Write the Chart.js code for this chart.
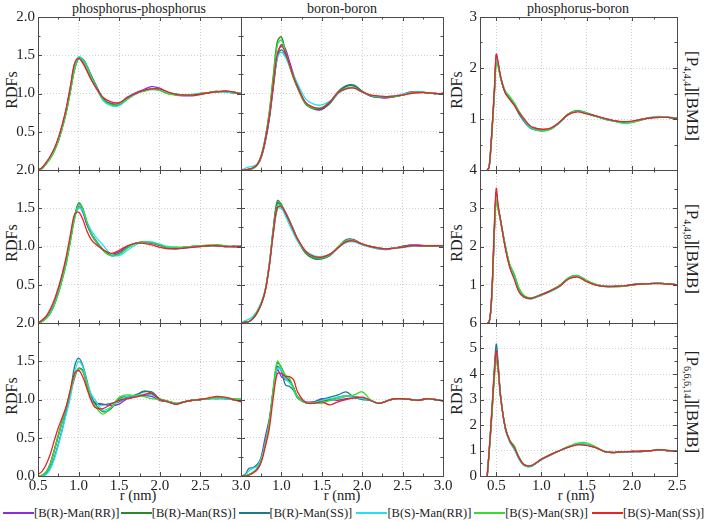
<!DOCTYPE html>
<html>
<head>
<meta charset="utf-8">
<script src="https://cdn.jsdelivr.net/npm/chart.js@4.4.1/dist/chart.umd.min.js"></script>
<style>
  body { margin:0; background:#fff; width:708px; height:522px; position:relative; overflow:hidden;
         font-family:"Liberation Serif","DejaVu Serif",serif; color:#222; }
  canvas { position:absolute; }
  .t { position:absolute; transform:translate(-50%,-50%); white-space:nowrap; }
  .title { font-size:14px; }
  .ax { font-size:14.5px; }
  .ylab { font-size:16px; transform:translate(-50%,-50%) rotate(-90deg); }
  .row { font-size:17px; transform:translate(-50%,-50%) rotate(90deg); }
  .row sub { font-size:10px; vertical-align:-3px; }
  .leg { position:absolute; top:505px; height:16px; display:flex; align-items:center; font-size:12.5px; }
  .leg b { display:inline-block; width:31px; height:1.6px; }
</style>
</head>
<body>
<div class="t title" style="left:139px;top:9px">phosphorus-phosphorus</div>
<div class="t title" style="left:342px;top:9px">boron-boron</div>
<div class="t title" style="left:578px;top:9px">phosphorus-boron</div>

<div class="t ylab" style="left:12px;top:90px">RDFs</div>
<div class="t ylab" style="left:12px;top:243px">RDFs</div>
<div class="t ylab" style="left:12px;top:396px">RDFs</div>
<div class="t ylab" style="left:457px;top:90px">RDFs</div>
<div class="t ylab" style="left:457px;top:243px">RDFs</div>
<div class="t ylab" style="left:457px;top:396px">RDFs</div>

<div class="t row" style="left:692px;top:96px">[P<sub>4,4,4</sub>][BMB]</div>
<div class="t row" style="left:692px;top:249px">[P<sub>4,4,8</sub>][BMB]</div>
<div class="t row" style="left:692px;top:402px">[P<sub>6,6,6,14</sub>][BMB]</div>

<div class="t ax" style="left:138px;top:495px">r (nm)</div>
<div class="t ax" style="left:342px;top:495px">r (nm)</div>
<div class="t ax" style="left:576px;top:495px">r (nm)</div>

<div id="legend"></div>

<script>
// series (same order in every panel)
const seriesNames = ['[B(R)-Man(RR)]', '[B(R)-Man(RS)]', '[B(R)-Man(SS)]',
                     '[B(S)-Man(RR)]', '[B(S)-Man(SR)]', '[B(S)-Man(SS)]'];
const seriesColors = ['#8b2be2', '#2a8a2a', '#1f7a8c', '#22e0f0', '#33dd33', '#e8232a'];

// r (nm) sample points
const rLeft = [0.5,0.55,0.6,0.65,0.7,0.75,0.8,0.85,0.9,0.95,1.0,1.05,1.1,1.15,1.2,
               1.3,1.4,1.5,1.6,1.7,1.8,1.9,2.0,2.1,2.2,2.3,2.4,2.5,2.6,2.7,2.8,2.9,3.0];
const rRight = [0.40,0.42,0.44,0.46,0.48,0.50,0.52,0.55,0.60,0.65,0.70,0.75,0.80,0.85,0.90,
                1.0,1.1,1.2,1.3,1.4,1.5,1.6,1.7,1.8,1.9,2.0,2.1,2.2,2.3,2.4,2.5];

// [P4,4,4][BMB]
const pp444 = [
  [0,0.03,0.09,0.17,0.27,0.41,0.59,0.81,1.09,1.38,1.47,1.41,1.31,1.20,1.10,0.93,0.87,0.87,0.95,1.01,1.05,1.09,1.07,1.01,0.98,0.97,0.97,0.99,1.01,1.02,1.03,1.02,0.99],
  [0,0.02,0.08,0.15,0.25,0.38,0.56,0.77,1.04,1.32,1.47,1.45,1.36,1.24,1.13,0.93,0.86,0.86,0.94,1.00,1.03,1.06,1.05,1.01,0.99,0.98,0.98,0.99,1.01,1.03,1.02,1.01,1.00],
  [0,0.02,0.08,0.15,0.25,0.38,0.56,0.77,1.04,1.32,1.46,1.45,1.37,1.25,1.14,0.94,0.85,0.85,0.93,0.99,1.04,1.06,1.04,1.00,0.99,0.98,0.98,1.00,1.01,1.02,1.03,1.01,1.00],
  [0,0.02,0.08,0.16,0.25,0.39,0.57,0.78,1.05,1.33,1.48,1.45,1.36,1.23,1.12,0.91,0.84,0.84,0.92,0.99,1.04,1.06,1.05,1.01,0.99,0.98,0.99,1.00,1.01,1.02,1.02,1.01,1.00],
  [0,0.02,0.08,0.15,0.25,0.38,0.55,0.76,1.03,1.31,1.45,1.44,1.35,1.23,1.12,0.92,0.85,0.86,0.93,1.00,1.03,1.05,1.04,1.00,0.98,0.98,0.98,1.00,1.01,1.02,1.03,1.02,1.00],
  [0,0.03,0.10,0.18,0.28,0.42,0.60,0.82,1.10,1.39,1.46,1.40,1.30,1.19,1.10,0.95,0.89,0.88,0.95,1.00,1.04,1.06,1.06,1.02,0.99,0.98,0.98,0.99,1.01,1.02,1.03,1.02,0.99]
];
const bb444 = [
  [0,0,0.01,0.02,0.06,0.16,0.36,0.66,1.08,1.48,1.64,1.58,1.42,1.25,1.10,0.87,0.80,0.79,0.88,1.02,1.10,1.10,1.02,0.97,0.95,0.94,0.96,0.99,1.02,1.02,1.01,1.00,1.00],
  [0,0,0.01,0.03,0.07,0.19,0.42,0.76,1.24,1.68,1.74,1.55,1.36,1.20,1.07,0.86,0.80,0.80,0.88,1.02,1.10,1.11,1.03,0.98,0.96,0.95,0.96,0.98,1.01,1.02,1.01,1.00,1.00],
  [0,0,0.01,0.03,0.07,0.17,0.38,0.68,1.10,1.47,1.57,1.50,1.37,1.22,1.09,0.88,0.81,0.80,0.87,1.00,1.09,1.10,1.03,0.97,0.95,0.95,0.96,0.98,1.01,1.02,1.01,1.00,1.00],
  [0,0.02,0.04,0.05,0.08,0.18,0.40,0.71,1.13,1.47,1.54,1.47,1.36,1.24,1.13,0.93,0.86,0.85,0.90,1.00,1.06,1.07,1.02,0.98,0.96,0.96,0.97,0.99,1.01,1.02,1.01,1.00,1.00],
  [0,0,0.01,0.02,0.06,0.17,0.40,0.73,1.20,1.63,1.70,1.54,1.37,1.21,1.08,0.87,0.81,0.82,0.89,1.01,1.07,1.08,1.02,0.98,0.96,0.96,0.96,0.98,1.01,1.02,1.01,1.00,1.00],
  [0,0,0.01,0.03,0.07,0.18,0.39,0.69,1.12,1.52,1.62,1.53,1.38,1.22,1.09,0.88,0.82,0.81,0.89,1.01,1.06,1.07,1.02,0.98,0.97,0.96,0.97,0.98,1.00,1.01,1.01,1.00,1.00]
];
const pb444 = [
  [0,0.05,0.45,1.00,1.60,2.26,2.10,1.80,1.52,1.40,1.28,1.13,1.01,0.90,0.83,0.79,0.81,0.93,1.09,1.15,1.11,1.06,1.01,0.97,0.94,0.95,0.99,1.02,1.04,1.03,1.01],
  [0,0.05,0.43,0.96,1.52,2.16,2.06,1.79,1.53,1.42,1.30,1.15,1.01,0.89,0.81,0.77,0.80,0.93,1.10,1.16,1.11,1.05,1.00,0.96,0.93,0.94,0.99,1.02,1.04,1.03,1.01],
  [0,0.05,0.44,0.98,1.56,2.20,2.08,1.80,1.51,1.40,1.27,1.10,0.97,0.86,0.80,0.77,0.80,0.93,1.10,1.17,1.12,1.06,1.00,0.96,0.93,0.94,0.98,1.02,1.04,1.03,1.01],
  [0,0.05,0.44,0.97,1.54,2.18,2.07,1.81,1.55,1.44,1.31,1.14,1.00,0.88,0.81,0.77,0.80,0.92,1.09,1.15,1.11,1.05,1.00,0.96,0.92,0.94,0.99,1.03,1.05,1.04,1.02],
  [0,0.05,0.42,0.94,1.50,2.10,2.03,1.80,1.55,1.43,1.31,1.15,1.02,0.90,0.82,0.77,0.80,0.93,1.10,1.16,1.11,1.05,1.00,0.96,0.92,0.93,0.98,1.02,1.04,1.03,1.01],
  [0,0.05,0.46,1.01,1.62,2.27,2.12,1.82,1.51,1.38,1.27,1.13,1.02,0.91,0.84,0.80,0.82,0.94,1.09,1.14,1.10,1.06,1.01,0.97,0.95,0.96,0.99,1.02,1.03,1.03,1.01]
];

// [P4,4,8][BMB]
const pp448 = [
  [0,0.03,0.07,0.15,0.26,0.42,0.61,0.84,1.12,1.40,1.52,1.45,1.29,1.17,1.08,0.96,0.90,0.93,1.00,1.04,1.05,1.04,1.01,0.98,0.97,0.98,0.99,1.00,1.01,1.01,1.00,1.00,1.00],
  [0,0.02,0.06,0.13,0.24,0.39,0.58,0.80,1.09,1.38,1.57,1.50,1.32,1.18,1.09,0.95,0.88,0.90,0.98,1.04,1.06,1.05,1.02,0.99,0.98,0.99,1.00,1.01,1.01,1.02,1.01,1.00,1.00],
  [0,0.02,0.06,0.13,0.24,0.39,0.58,0.80,1.09,1.38,1.55,1.49,1.31,1.18,1.10,0.96,0.89,0.91,0.99,1.04,1.06,1.05,1.02,0.99,0.98,0.99,1.00,1.01,1.01,1.01,1.00,1.00,1.00],
  [0,0.02,0.06,0.13,0.24,0.39,0.58,0.80,1.08,1.36,1.50,1.47,1.33,1.22,1.14,1.02,0.90,0.88,0.95,1.02,1.06,1.06,1.03,1.00,0.99,0.99,1.00,1.01,1.01,1.01,1.00,1.00,1.00],
  [0,0.02,0.06,0.13,0.24,0.39,0.57,0.79,1.07,1.36,1.55,1.50,1.33,1.18,1.09,0.95,0.88,0.90,0.98,1.04,1.06,1.05,1.02,0.99,0.99,0.99,1.00,1.01,1.02,1.02,1.01,1.00,1.00],
  [0,0.04,0.09,0.18,0.30,0.46,0.65,0.88,1.16,1.42,1.45,1.36,1.21,1.10,1.04,0.96,0.91,0.95,1.01,1.04,1.04,1.02,0.99,0.97,0.97,0.98,0.99,1.00,1.01,1.01,1.00,1.00,1.00]
];
const bb448 = [
  [0,0.01,0.02,0.06,0.14,0.25,0.42,0.74,1.17,1.50,1.53,1.45,1.34,1.22,1.10,0.93,0.86,0.85,0.89,0.99,1.09,1.09,1.03,1.00,0.97,0.96,0.98,1.00,1.02,1.02,1.01,1.01,1.01],
  [0,0.01,0.02,0.06,0.13,0.24,0.42,0.76,1.24,1.60,1.55,1.43,1.32,1.20,1.08,0.91,0.84,0.84,0.89,0.99,1.08,1.08,1.03,1.00,0.98,0.97,0.98,1.00,1.01,1.01,1.01,1.01,1.01],
  [0,0.01,0.02,0.06,0.14,0.25,0.43,0.77,1.23,1.57,1.53,1.43,1.33,1.21,1.09,0.92,0.85,0.84,0.88,0.98,1.07,1.07,1.03,1.00,0.98,0.97,0.98,1.00,1.01,1.01,1.01,1.01,1.01],
  [0,0.03,0.05,0.09,0.16,0.27,0.44,0.77,1.19,1.49,1.50,1.40,1.28,1.17,1.07,0.94,0.88,0.87,0.90,0.98,1.05,1.06,1.02,0.99,0.97,0.97,0.98,0.99,1.00,1.01,1.01,1.01,1.01],
  [0,0.01,0.02,0.07,0.15,0.26,0.43,0.76,1.21,1.54,1.53,1.44,1.34,1.21,1.10,0.93,0.86,0.85,0.89,0.99,1.08,1.08,1.03,1.00,0.98,0.97,0.98,0.99,1.01,1.01,1.01,1.01,1.01],
  [0,0.01,0.02,0.06,0.14,0.25,0.42,0.74,1.18,1.51,1.52,1.44,1.33,1.21,1.10,0.94,0.87,0.86,0.90,0.98,1.06,1.07,1.03,1.00,0.98,0.97,0.98,0.99,1.01,1.01,1.01,1.01,1.01]
];
const pb448 = [
  [0,0.02,0.35,1.25,2.55,3.40,3.05,2.65,1.98,1.47,1.17,0.84,0.70,0.65,0.65,0.74,0.84,0.97,1.16,1.22,1.09,1.00,0.96,0.96,0.97,1.00,1.02,1.03,1.04,1.02,1.00],
  [0,0.02,0.32,1.18,2.45,3.28,3.00,2.66,2.02,1.52,1.25,0.90,0.72,0.66,0.66,0.75,0.85,0.98,1.18,1.24,1.11,1.01,0.96,0.95,0.96,0.99,1.02,1.03,1.04,1.02,1.00],
  [0,0.02,0.34,1.22,2.50,3.35,3.03,2.64,1.99,1.48,1.18,0.84,0.69,0.64,0.64,0.73,0.83,0.96,1.17,1.23,1.10,1.00,0.95,0.95,0.97,1.00,1.02,1.03,1.04,1.02,1.00],
  [0,0.02,0.33,1.20,2.48,3.30,3.00,2.63,2.00,1.49,1.19,0.85,0.70,0.65,0.64,0.72,0.82,0.95,1.16,1.22,1.10,1.01,0.96,0.96,0.97,1.00,1.02,1.03,1.04,1.02,1.00],
  [0,0.02,0.31,1.15,2.40,3.20,2.96,2.64,2.03,1.53,1.28,0.92,0.74,0.67,0.66,0.74,0.84,0.97,1.18,1.24,1.11,1.01,0.96,0.95,0.96,0.99,1.02,1.03,1.04,1.02,1.00],
  [0,0.02,0.38,1.30,2.65,3.52,3.10,2.66,1.96,1.45,1.14,0.82,0.69,0.65,0.65,0.74,0.84,0.96,1.15,1.20,1.08,0.99,0.96,0.96,0.97,1.00,1.02,1.03,1.03,1.02,1.00]
];

// [P6,6,6,14][BMB]
const pp6614 = [
  [0,0.01,0.05,0.15,0.33,0.52,0.71,0.88,1.08,1.28,1.41,1.38,1.20,1.04,0.96,0.94,0.92,0.94,1.01,1.04,1.05,1.04,0.99,0.97,0.94,0.97,0.99,1.00,1.01,1.02,1.02,1.00,0.99],
  [0,0.01,0.05,0.16,0.34,0.54,0.73,0.91,1.12,1.32,1.40,1.38,1.21,1.05,0.95,0.84,0.88,1.01,1.04,1.05,1.11,1.08,0.99,0.97,0.94,0.97,0.99,1.00,1.01,1.02,1.02,1.01,1.00],
  [0,0,0.03,0.10,0.24,0.42,0.62,0.84,1.10,1.43,1.54,1.45,1.26,1.07,0.95,0.93,0.95,0.97,1.03,1.06,1.10,1.10,1.01,0.98,0.95,0.97,0.99,1.00,1.01,1.01,1.01,1.00,1.00],
  [0,0,0.02,0.09,0.22,0.40,0.60,0.82,1.03,1.35,1.50,1.43,1.24,1.08,1.00,0.86,0.90,0.99,1.04,1.05,1.07,1.06,1.00,0.97,0.95,0.97,0.99,1.00,1.01,1.01,1.01,1.00,1.00],
  [0,0.01,0.05,0.15,0.33,0.53,0.72,0.90,1.10,1.30,1.40,1.37,1.22,1.03,0.92,0.81,0.90,1.03,1.06,1.05,1.04,1.01,1.00,0.98,0.95,0.97,0.99,1.00,1.01,1.02,1.02,1.01,1.00],
  [0.02,0.06,0.15,0.28,0.46,0.63,0.77,0.92,1.14,1.34,1.38,1.30,1.15,1.00,0.90,0.88,0.94,0.99,1.01,1.03,1.06,1.08,1.00,0.97,0.94,0.97,0.99,1.00,1.02,1.04,1.03,1.00,0.97]
];
const bb6614 = [
  [0,0,0.02,0.05,0.10,0.25,0.51,0.75,1.12,1.39,1.30,1.26,1.24,1.15,1.03,0.97,0.97,1.01,1.00,0.99,1.01,1.02,1.01,0.99,0.95,0.98,1.01,1.01,1.00,0.99,1.01,1.00,0.98],
  [0,0,0.02,0.05,0.09,0.20,0.42,0.70,1.14,1.48,1.42,1.30,1.25,1.16,1.04,0.96,0.96,0.98,0.99,1.03,1.05,1.04,1.02,0.99,0.95,0.98,1.01,1.01,1.00,0.99,1.01,1.00,0.98],
  [0,0.02,0.10,0.11,0.15,0.24,0.43,0.70,1.12,1.43,1.37,1.19,1.17,1.12,1.02,0.96,0.97,1.00,1.03,1.06,1.10,1.03,1.00,0.99,0.95,0.98,1.01,1.01,1.00,0.99,1.01,1.00,0.98],
  [0,0.01,0.07,0.10,0.13,0.23,0.43,0.70,1.12,1.41,1.38,1.27,1.22,1.14,1.03,0.96,0.96,0.99,1.01,1.03,1.05,1.03,1.01,0.99,0.95,0.98,1.01,1.01,1.00,0.99,1.01,1.00,0.98],
  [0,0,0.02,0.05,0.09,0.20,0.42,0.70,1.15,1.50,1.41,1.32,1.28,1.15,1.03,0.96,0.96,0.95,0.99,1.01,1.04,1.06,1.10,1.00,0.95,0.98,1.01,1.01,1.00,0.99,1.01,1.00,0.98],
  [0,0,0.01,0.04,0.08,0.18,0.38,0.62,1.03,1.34,1.34,1.30,1.30,1.26,1.10,0.96,0.95,0.97,0.93,0.97,1.00,1.02,1.03,0.99,0.95,0.98,1.01,1.01,1.00,0.99,1.01,1.00,0.98]
];
const pb6614 = [
  [0,0.90,1.90,3.00,4.10,4.93,4.30,3.05,1.88,1.37,1.10,0.72,0.46,0.39,0.42,0.65,0.84,1.00,1.14,1.26,1.22,1.11,0.96,0.92,0.95,0.96,0.97,0.99,1.03,1.00,0.97],
  [0,0.88,1.85,2.95,4.05,4.85,4.25,3.05,1.90,1.38,1.12,0.72,0.45,0.38,0.41,0.66,0.83,0.99,1.14,1.25,1.23,1.12,0.96,0.92,0.95,0.96,0.96,0.99,1.03,0.99,0.97],
  [0,0.92,1.95,3.10,4.30,5.18,4.45,3.10,1.85,1.33,1.05,0.68,0.43,0.36,0.40,0.64,0.82,0.99,1.14,1.25,1.22,1.12,0.96,0.92,0.95,0.96,0.96,0.99,1.02,0.99,0.97],
  [0,0.88,1.88,2.98,4.08,4.87,4.28,3.08,1.88,1.36,1.08,0.70,0.44,0.37,0.41,0.65,0.83,0.99,1.15,1.27,1.24,1.12,0.96,0.92,0.94,0.95,0.96,0.99,1.02,0.99,0.97],
  [0,0.85,1.75,2.80,3.85,4.54,4.10,3.00,1.92,1.40,1.18,0.76,0.47,0.39,0.42,0.66,0.84,1.00,1.16,1.29,1.30,1.14,0.97,0.92,0.95,0.96,0.96,0.99,1.03,0.99,0.97],
  [0,0.92,1.92,3.02,4.12,4.90,4.28,3.05,1.90,1.38,1.12,0.73,0.47,0.40,0.43,0.66,0.84,0.99,1.13,1.22,1.20,1.11,0.96,0.93,0.95,0.96,0.97,0.99,1.03,1.00,0.97]
];

// axis ticks
const xTicksLeft = [0.5, 1.0, 1.5, 2.0, 2.5, 3.0];
const yTicksLeft = [0, 0.5, 1.0, 1.5, 2.0];
const xTicksRight = [0.5, 1.0, 1.5, 2.0, 2.5];
const yTicksRight = [[0, 1, 2, 3], [0, 1, 2, 3, 4], [0, 1, 2, 3, 4, 5, 6]];

// panel geometry (page px)
const colLeft = [38, 241, 480];
const colWidth = [203, 202, 197];
const rowTop = [17, 170, 323];
const rowH = 153;

// frame + inward tick marks (major and minor) on all four sides
const framePlugin = {
  id: 'frame',
  afterDatasetsDraw(chart, args, o) {
    const { ctx, chartArea: a, scales: { x, y } } = chart;
    ctx.save();
    ctx.strokeStyle = '#4a4a4a';
    ctx.lineWidth = 1;
    ctx.beginPath();
    const marks = (scale, minor, major, fn) => {
      const i0 = Math.ceil(scale.min / minor - 1e-6), i1 = Math.floor(scale.max / minor + 1e-6);
      for (let i = i0; i <= i1; i++) {
        const v = i * minor;
        const isMajor = Math.abs(v / major - Math.round(v / major)) < 1e-6;
        fn(Math.round(scale.getPixelForValue(v)) + 0.5, isMajor ? 4 : 2.5);
      }
    };
    marks(x, o.xMinor, o.xMajor, (p, l) => {
      ctx.moveTo(p, a.bottom); ctx.lineTo(p, a.bottom - l);
      ctx.moveTo(p, a.top); ctx.lineTo(p, a.top + l);
    });
    marks(y, o.yMinor, o.yMajor, (p, l) => {
      ctx.moveTo(a.left, p); ctx.lineTo(a.left + l, p);
      ctx.moveTo(a.right, p); ctx.lineTo(a.right - l, p);
    });
    ctx.stroke();
    ctx.strokeRect(Math.round(a.left) + 0.5, Math.round(a.top) + 0.5,
                   Math.round(a.right - a.left), Math.round(a.bottom - a.top));
    ctx.restore();
  }
};

const panelData = [[pp444, bb444, pb444], [pp448, bb448, pb448], [pp6614, bb6614, pb6614]];
const font = { family: '"Liberation Serif","DejaVu Serif",serif', size: 15 };
const padL = 45, padT = 12, padR = 25, padB = 24;

for (let r = 0; r < 3; r++) {
  for (let c = 0; c < 3; c++) {
    const right = c === 2;
    const xs = right ? rRight : rLeft;
    const L = colLeft[c], T = rowTop[r], W = colWidth[c], H = rowH;
    const cv = document.createElement('canvas');
    cv.width = W + padL + padR;
    cv.height = H + padT + padB;
    cv.style.left = (L - padL) + 'px';
    cv.style.top = (T - padT) + 'px';
    document.body.appendChild(cv);

    const xTicks = right ? xTicksRight : xTicksLeft;
    const yTicks = right ? yTicksRight[r] : yTicksLeft;

    const datasets = panelData[r][c].map((ys, i) => ({
      label: seriesNames[i],
      data: ys.map((v, k) => ({ x: xs[k], y: v })),
      borderColor: seriesColors[i],
      borderWidth: 1.3,
      pointRadius: 0,
      tension: 0.35,
      fill: false,
      order: 5 - i
    }));

    new Chart(cv, {
      type: 'line',
      data: { datasets },
      options: {
        responsive: false,
        animation: false,
        events: [],
        layout: { padding: { left: 0, top: padT, right: padR, bottom: 0 } },
        plugins: { legend: { display: false }, tooltip: { enabled: false },
                   frame: { xMinor: 0.25, xMajor: 0.5,
                            yMinor: right ? 0.5 : 0.25, yMajor: right ? 1 : 0.5 } },
        scales: {
          x: {
            type: 'linear',
            min: right ? 0.32 : 0.5, max: right ? 2.5 : 3.0,
            afterBuildTicks: s => { s.ticks = xTicks.map(v => ({ value: v })); },
            afterFit: s => { s.height = padB; },
            grid: { color: '#c4c4c4', lineWidth: 0.8, drawTicks: false },
            border: { display: false, dash: [1, 2] },
            ticks: {
              display: r === 2,
              padding: 1, color: '#222', font, maxRotation: 0, autoSkip: false,
              callback: v => (c === 1 && v === 0.5) ? '' : v.toFixed(1)
            }
          },
          y: {
            type: 'linear',
            min: 0, max: yTicks[yTicks.length - 1],
            afterBuildTicks: s => { s.ticks = yTicks.map(v => ({ value: v })); },
            afterFit: s => { s.width = padL; },
            grid: { color: '#c4c4c4', lineWidth: 0.8, drawTicks: false },
            border: { display: false, dash: [1, 2] },
            ticks: {
              display: c !== 1,
              padding: 3, color: '#222', font, autoSkip: false,
              callback: v => (v === 0 && r < 2) ? '' : (right ? String(v) : v.toFixed(1))
            }
          }
        }
      },
      plugins: [framePlugin]
    });
  }
}

// legend row
const legend = document.getElementById('legend');
seriesNames.forEach((name, i) => {
  const d = document.createElement('div');
  d.className = 'leg';
  d.style.left = (3 + i * 117.8) + 'px';
  const swatch = document.createElement('b');
  swatch.style.background = seriesColors[i];
  const label = document.createElement('span');
  label.textContent = name;
  d.appendChild(swatch);
  d.appendChild(label);
  legend.appendChild(d);
});
</script>
</body>
</html>
